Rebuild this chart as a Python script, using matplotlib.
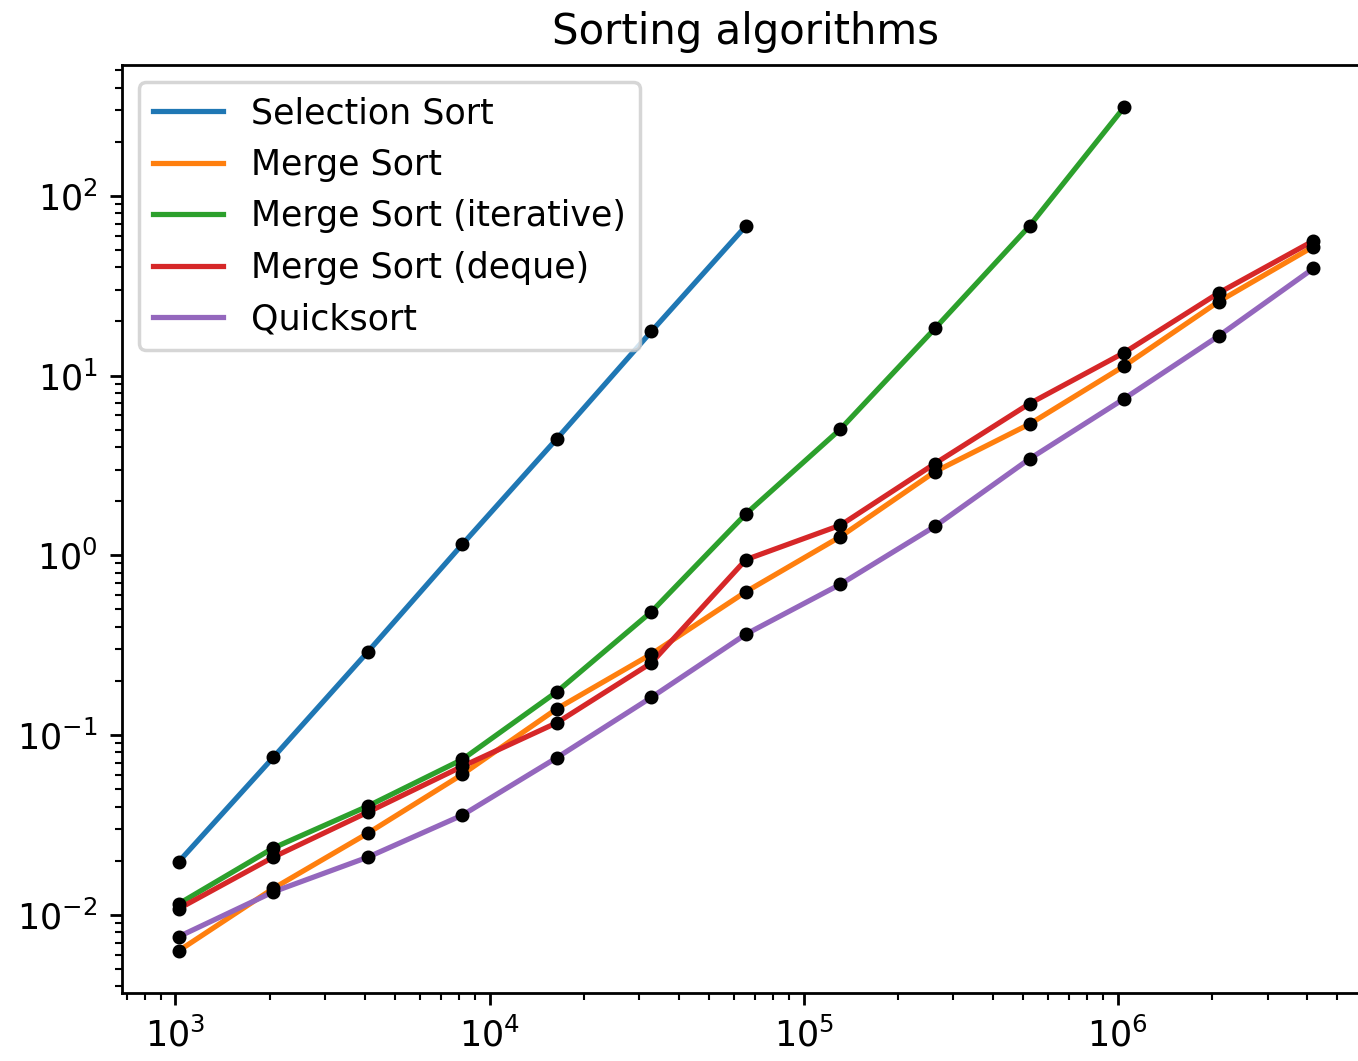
import matplotlib
matplotlib.use("Agg")
import matplotlib.pyplot as plt

# array sizes: 2^10 .. 2^22
sizes = [2 ** k for k in range(10, 23)]

# timings (seconds)
selection = [0.0197, 0.075, 0.29, 1.15, 4.45, 17.6, 68.0]
merge = [0.0063, 0.0140, 0.0284, 0.0604, 0.140, 0.282, 0.627, 1.27, 2.92, 5.37, 11.3, 25.8, 52.1]
merge_iter = [0.0115, 0.0235, 0.0402, 0.0731, 0.174, 0.485, 1.70, 5.04, 18.3, 68.0, 311.0]
merge_deque = [0.0108, 0.0209, 0.0372, 0.0669, 0.117, 0.252, 0.946, 1.47, 3.24, 6.98, 13.4, 28.8, 56.1]
quick = [0.00755, 0.0134, 0.0209, 0.0358, 0.0748, 0.162, 0.364, 0.69, 1.45, 3.44, 7.43, 16.6, 39.4]

series = [
    ("Selection Sort", selection),
    ("Merge Sort", merge),
    ("Merge Sort (iterative)", merge_iter),
    ("Merge Sort (deque)", merge_deque),
    ("Quicksort", quick),
]

fig = plt.figure(figsize=(1358 / 251, 1061 / 251), dpi=251)
ax = fig.add_axes([0.0898, 0.0641, 0.919, 0.8746])

for name, times in series:
    ax.plot(sizes[:len(times)], times, label=name)
for name, times in series:
    ax.plot(sizes[:len(times)], times, "k.")

ax.set_xscale("log")
ax.set_yscale("log")
ax.set_title("Sorting algorithms")
ax.legend(loc="upper left")

fig.savefig("out.png", dpi=251)
